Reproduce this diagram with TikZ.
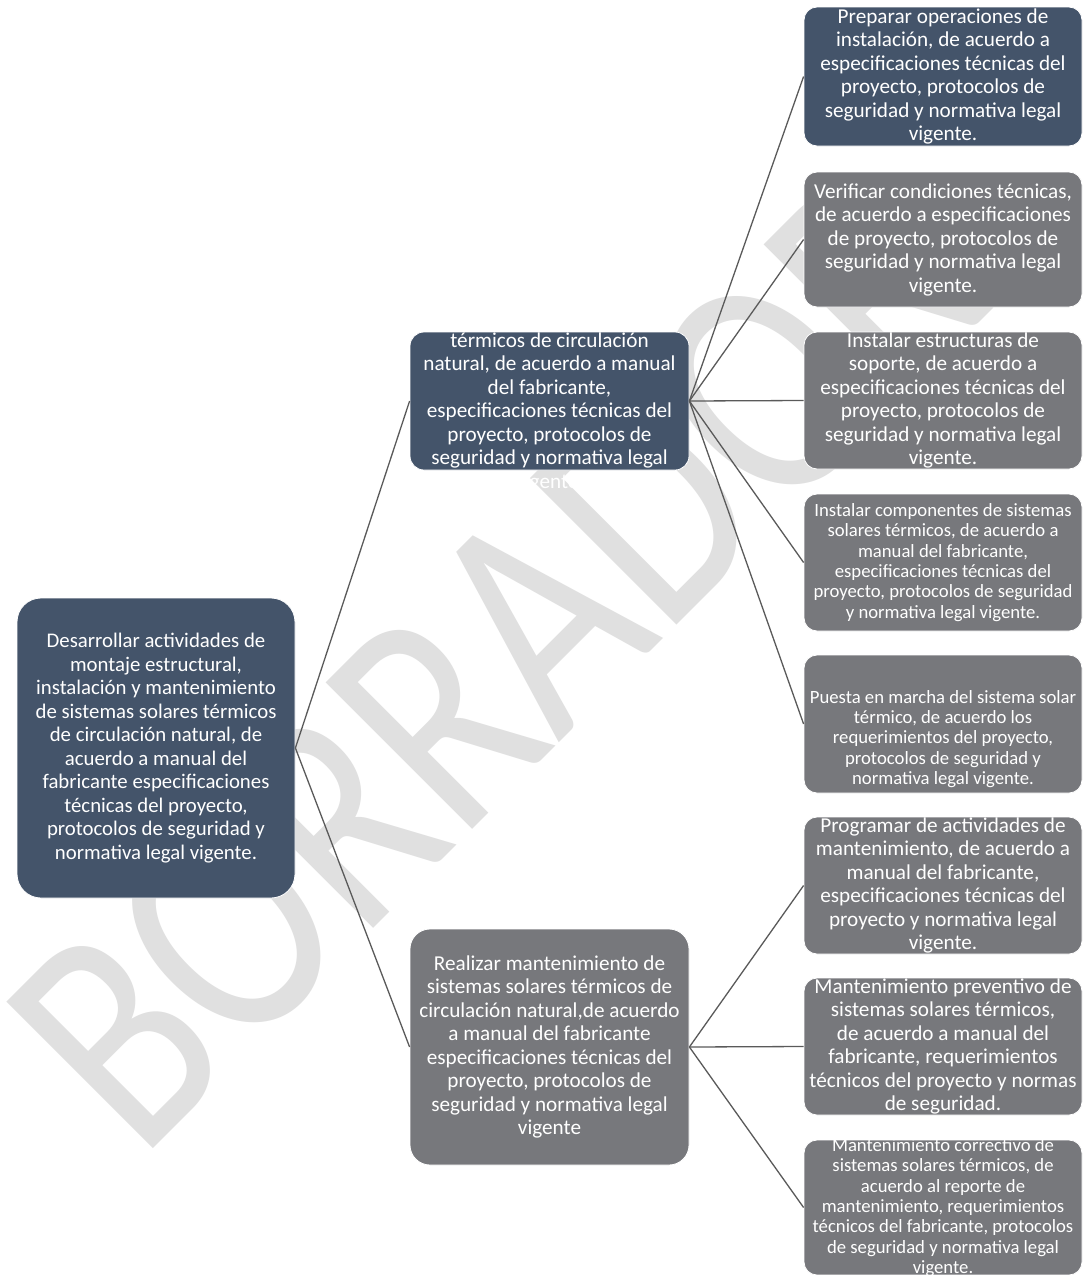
\documentclass[tikz,border=0pt]{standalone}
\usepackage{fontspec}
\setmainfont{Carlito}
\definecolor{navy}{HTML}{44546A}
\definecolor{greybox}{HTML}{77787C}
\definecolor{wm}{HTML}{E0E0E0}
\definecolor{conn}{HTML}{5A5A5A}
\begin{document}
\begin{tikzpicture}[x=1pt,y=-1pt,
  boxbase/.style={rectangle, inner sep=0pt, draw=white, line width=0.8pt, minimum width=278pt},
  navybox/.style={boxbase, fill=navy},
  greyb/.style={boxbase, fill=greybox},
  txt/.style={text=white, align=center, inner sep=0pt, font=\fontsize{21.2}{23.5}\selectfont},
  roottxt/.style={text=white, align=center, inner sep=0pt, font=\fontsize{20.8}{23.5}\selectfont},
  smalltxt/.style={text=white, align=center, inner sep=0pt, font=\fontsize{18.7}{20.4}\selectfont},
  link/.style={draw=conn, line width=1.3pt}]
\useasboundingbox (0,0) rectangle (1086,1275);
\fill[white] (0,0) rectangle (1086,1275);
% watermark
\begin{scope}[shift={(140,1162)}, rotate=45, xscale=0.8]
\node[transform shape, anchor=base west, inner sep=0pt, text=wm, font=\fontsize{323}{323}\selectfont] (wmark) at (0,0) {BORRADOR};
\end{scope}
% boxes
\node[navybox, rounded corners=24pt, minimum height=300pt] (root) at (156,748) {};
\node[navybox, rounded corners=14pt, minimum width=279pt, minimum height=138pt] (m1) at (549.5,401) {};
\node[greyb, rounded corners=20pt, minimum width=279pt, minimum height=236pt] (m2) at (549.5,1047) {};
\node[navybox, rounded corners=13pt, minimum height=139pt] (l1) at (943,76.5) {};
\node[greyb, rounded corners=13pt, minimum height=135pt] (l2) at (943,239.5) {};
\node[greyb, rounded corners=13pt, minimum height=137pt] (l3) at (943,400.5) {};
\node[greyb, rounded corners=13pt, minimum height=137pt] (l4) at (943,562.5) {};
\node[greyb, rounded corners=13pt, minimum height=138pt] (l5) at (943,724) {};
\node[greyb, rounded corners=13pt, minimum height=137pt] (l6) at (943,885.5) {};
\node[greyb, rounded corners=13pt, minimum height=137pt] (l7) at (943,1046.5) {};
\node[greyb, rounded corners=13pt, minimum height=135pt] (l8) at (943,1207.5) {};
% connectors
\draw[link] (root.east) -- (m1.west);
\draw[link] (root.east) -- (m2.west);
\foreach \l in {l1,l2,l3,l4,l5} \draw[link] (m1.east) -- (\l.west);
\foreach \l in {l6,l7,l8} \draw[link] (m2.east) -- (\l.west);
% texts
\node[roottxt] (troot) at (root.center) {Desarrollar actividades de\\montaje estructural,\\instalación y mantenimiento\\de sistemas solares térmicos\\de circulación natural, de\\acuerdo a manual del\\fabricante especificaciones\\técnicas del proyecto,\\protocolos de seguridad y\\normativa legal vigente.};
\node[txt] (tm1) at ([yshift=-11pt]m1.center) {térmicos de circulación\\natural, de acuerdo a manual\\del fabricante,\\especificaciones técnicas del\\proyecto, protocolos de\\seguridad y normativa legal\\vigente.};
\node[txt] (tm2) at (m2.center) {Realizar mantenimiento de\\sistemas solares térmicos de\\circulación natural,de acuerdo\\a manual del fabricante\\especificaciones técnicas del\\proyecto, protocolos de\\seguridad y normativa legal\\vigente};
\node[txt] (tl1) at (l1.center) {Preparar operaciones de\\instalación, de acuerdo a\\especificaciones técnicas del\\proyecto, protocolos de\\seguridad y normativa legal\\vigente.};
\node[txt] (tl2) at (l2.center) {Verificar condiciones técnicas,\\de acuerdo a especificaciones\\de proyecto, protocolos de\\seguridad y normativa legal\\vigente.};
\node[txt] (tl3) at (l3.center) {Instalar estructuras de\\soporte, de acuerdo a\\especificaciones técnicas del\\proyecto, protocolos de\\seguridad y normativa legal\\vigente.};
\node[smalltxt] (tl4) at (l4.center) {Instalar componentes de sistemas\\solares térmicos, de acuerdo a\\manual del fabricante,\\especificaciones técnicas del\\proyecto, protocolos de seguridad\\y normativa legal vigente.};
\node[smalltxt] (tl5) at ([yshift=-15pt]l5.center) {Puesta en marcha del sistema solar\\térmico, de acuerdo los\\requerimientos del proyecto,\\protocolos de seguridad y\\normativa legal vigente.};
\node[txt] (tl6) at (l6.center) {Programar de actividades de\\mantenimiento, de acuerdo a\\manual del fabricante,\\especificaciones técnicas del\\proyecto y normativa legal\\vigente.};
\node[txt] (tl7) at (l7.center) {Mantenimiento preventivo de\\sistemas solares térmicos,\\de acuerdo a manual del\\fabricante, requerimientos\\técnicos del proyecto y normas\\de seguridad.};
\node[smalltxt] (tl8) at (l8.center) {Mantenimiento correctivo de\\sistemas solares térmicos, de\\acuerdo al reporte de\\mantenimiento, requerimientos\\técnicos del fabricante, protocolos\\de seguridad y normativa legal\\vigente.};
\end{tikzpicture}
\end{document}
